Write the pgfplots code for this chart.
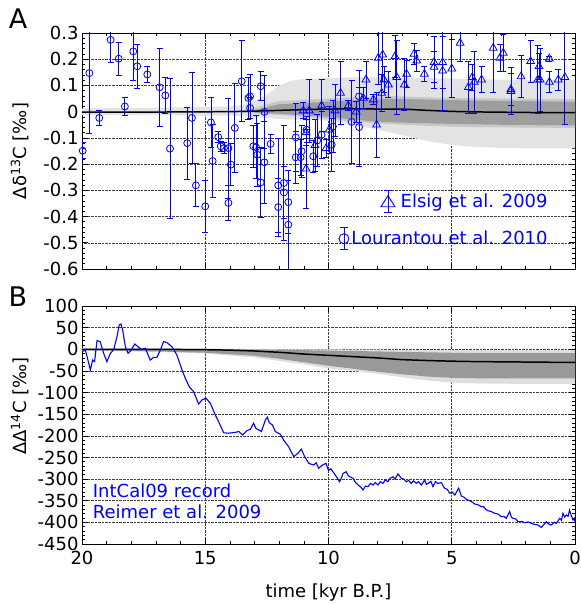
\documentclass[border=0pt]{standalone}
\usepackage{fontspec}
\setmainfont{DejaVu Sans}
\usepackage{pgfplots}
\pgfplotsset{compat=1.18}
\usepackage{pgfplotstable}

\pgfplotstableread{
x y e
19.97 -0.149 0.03
19.70 0.147 0.23
19.30 -0.024 0.03
18.84 0.274 0.088
18.51 0.202 0.062
18.26 0.020 0.033
17.92 0.230 0.112
17.76 0.173 0.083
17.35 0.142 0.03
16.85 0.093 0.15
16.62 0.062 0.067
16.43 -0.141 0.266
15.73 -0.120 0.137
15.54 -0.024 0.175
15.38 -0.281 0.082
15.00 -0.361 0.10
14.77 -0.041 0.097
14.70 -0.188 0.14
14.47 -0.097 0.02
14.37 -0.132 0.02
14.24 -0.139 0.02
14.06 -0.139 0.19
14.06 -0.348 0.068
13.96 -0.202 0.08
13.80 -0.062 0.17
13.52 0.116 0.155
13.25 0.052 0.08
13.18 0.058 0.083
13.18 0.014 0.04
13.05 -0.132 0.08
12.94 -0.136 0.12
12.89 -0.164 0.12
12.75 0.097 0.055
12.75 -0.270 0.135
12.60 -0.001 0.14
12.60 -0.193 0.155
12.35 -0.123 0.035
12.04 -0.281 0.18
12.04 -0.364 0.11
11.81 -0.272 0.22
11.81 -0.308 0.1
11.63 -0.345 0.12
11.63 -0.431 0.17
11.33 -0.098 0.13
11.33 -0.174 0.1
11.13 -0.174 0.07
11.09 -0.151 0.1
10.89 -0.069 0.05
10.62 -0.170 0.06
10.46 -0.110 0.1
10.28 -0.088 0.09
9.87 -0.126 0.1
9.82 -0.057 0.1
9.06 -0.039 0.16
8.76 0.058 0.1
8.76 -0.059 0.15
}\lourantou

\pgfplotstableread{
x y e
11.02 0.004 0.03
10.91 -0.079 0.05
10.91 -0.218 0.15
10.78 0.004 0.12
10.55 -0.128 0.1
10.28 0.023 0.1
10.10 -0.140 0.035
9.97 -0.069 0.09
9.74 0.004 0.1
9.51 0.071 0.12
9.20 0.023 0.02
8.88 0.000 0.04
8.59 0.052 0.04
8.48 0.122 0.07
8.18 0.046 0.02
8.05 -0.050 0.125
7.98 0.205 0.1
7.84 0.071 0.07
7.80 0.217 0.1
7.75 0.122 0.05
7.57 0.103 0.05
7.30 0.211 0.08
7.23 0.131 0.14
6.92 0.103 0.1
6.83 0.144 0.05
6.53 0.220 0.04
6.42 0.194 0.04
6.11 0.144 0.03
5.72 0.188 0.1
5.72 0.170 0.06
5.37 0.188 0.1
5.37 0.156 0.15
5.00 0.164 0.11
4.66 0.262 0.07
4.33 0.093 0.1
4.17 0.131 0.05
4.09 0.113 0.118
3.79 0.122 0.05
3.32 0.243 0.17
3.04 0.205 0.05
2.91 0.224 0.07
2.60 0.078 0.09
2.60 0.085 0.06
2.19 0.134 0.08
1.80 0.192 0.08
1.51 0.122 0.13
1.46 0.173 0.05
1.42 0.122 0.12
1.04 0.202 0.01
1.04 0.113 0.04
0.68 0.122 0.04
0.41 0.131 0.18
}\elsig

\pgfplotstableread{
x y
20.00 -5.5
19.86 -1.7
19.66 -48
19.57 -25
19.49 -28.6
19.39 20
19.26 17.6
19.12 -9.4
18.99 -28.6
18.85 -9.4
18.72 -1.7
18.58 29
18.49 56
18.42 58.4
18.35 44.5
18.24 6
18.13 -9.4
18.00 -1.7
17.86 12.2
17.73 6
17.59 0
17.43 2.2
17.23 -25
17.09 -18.6
16.96 -18.6
16.82 -1.7
16.69 17.6
16.55 15.3
16.35 6
16.15 -13.3
15.94 -48
15.81 -67
15.65 -86.4
15.47 -98
15.27 -126.5
15.13 -117
14.97 -113
14.79 -125
14.59 -152
14.46 -167
14.25 -193
14.05 -194
13.78 -192
13.64 -190
13.48 -198
13.31 -188
13.17 -185
13.04 -171
12.94 -183
12.72 -190
12.56 -163.5
12.48 -157
12.40 -170
12.27 -175
12.16 -190
11.95 -196.6
11.82 -209.7
11.62 -225
11.41 -248
11.24 -240.5
11.10 -231
10.97 -248
10.80 -263.6
10.60 -267.5
10.50 -262
10.40 -275
10.24 -267.5
10.10 -263.6
10.00 -280
9.90 -276
9.82 -283
9.75 -288
9.68 -294.5
9.55 -306
9.48 -298
9.41 -287
9.28 -283
9.20 -292
9.14 -294.5
9.01 -298
8.90 -308
8.80 -313.7
8.70 -318
8.60 -325
8.50 -316
8.40 -317.6
8.30 -310
8.19 -313.7
8.10 -308
7.99 -313.7
7.90 -306
7.79 -310
7.70 -302
7.59 -306
7.50 -298
7.38 -294.5
7.30 -300
7.18 -288
7.05 -298
6.95 -300
6.84 -306
6.75 -303
6.64 -310
6.55 -304
6.44 -310
6.35 -306
6.23 -313.7
6.10 -302
6.03 -312
5.96 -310
5.85 -305
5.76 -317.6
5.66 -306
5.56 -310
5.42 -308
5.35 -316
5.29 -321
5.18 -324
5.08 -333
4.98 -330
4.88 -337
4.72 -321
4.61 -339
4.50 -342
4.42 -346
4.34 -348.4
4.20 -352
4.07 -357.6
3.95 -359
3.80 -363.8
3.70 -364
3.62 -370
3.53 -373
3.40 -375
3.26 -379
3.12 -381
2.99 -387
2.88 -386
2.79 -390.8
2.65 -375
2.58 -388
2.51 -390.8
2.40 -392
2.31 -398.5
2.15 -398
2.04 -400.8
1.90 -399
1.77 -402.3
1.62 -405
1.50 -406.2
1.37 -411.6
1.25 -404
1.16 -398.5
1.06 -404
0.96 -406.2
0.85 -400
0.76 -402.3
0.62 -390.8
0.55 -395
0.49 -379
0.42 -388
0.35 -383
0.28 -386
0.22 -371.5
0.15 -384
0.08 -394.6
0.02 -390
0.00 -400
}\intcal

\newcommand{\myfont}{\fontsize{18bp}{21bp}\selectfont}

\pgfplotsset{
  panel/.style={
    scale only axis,
    width=493bp,
    x dir=reverse,
    xmin=0, xmax=20,
    xtick={0,5,10,15,20},
    minor x tick num=4,
    minor y tick num=4,
    tick align=inside,
    major tick length=6bp,
    minor tick length=3bp,
    grid=major,
    grid style={densely dotted, black!75, line width=0.5pt},
    axis line style={line width=0.9pt},
    tick style={line width=0.6pt, black},
    ticklabel style={font=\myfont},
    label style={font=\myfont},
    /pgf/number format/assume math mode=true,
    clip=true,
  },
  myerr/.style={
    error bars/.cd, y dir=both, y explicit,
    error bar style={color=blue, line width=0.8pt},
    error mark options={rotate=90, mark size=3bp, line width=0.8pt, color=blue},
  },
}

\begin{document}
\begin{tikzpicture}
\path[use as bounding box] (0,0) rectangle (581bp,604bp);

% ---------- Panel A: bands, mean line, frame ----------
\begin{axis}[panel,
  at={(82bp,335bp)}, anchor=south west,
  height=236bp,
  ymin=-0.6, ymax=0.3,
  ytick={-0.6,-0.5,-0.4,-0.3,-0.2,-0.1,0,0.1,0.2,0.3},
  yticklabel style={/pgf/number format/fixed,/pgf/number format/precision=1},
  xticklabels={},
  ylabel={Δδ\textsuperscript{13}C [‰]},
  ylabel style={at={(axis description cs:-0.126,0.5)}, anchor=center},
]
\addplot[fill=black!11, draw=none] coordinates {
(20,0.012)(17,0.015)(15,0.018)(14,0.02)(13.5,0.025)(13,0.04)(12.5,0.065)(12,0.1)(11.5,0.118)(11,0.125)(10,0.128)(9,0.131)(8,0.131)(7,0.13)(6,0.128)(5,0.126)(4,0.124)(3,0.122)(2,0.12)(1,0.12)(0,0.12)
(0,-0.14)(1,-0.14)(2,-0.14)(3,-0.138)(4,-0.135)(5,-0.127)(6,-0.112)(7,-0.09)(8,-0.068)(9,-0.05)(10,-0.035)(11,-0.03)(11.5,-0.03)(12,-0.028)(12.5,-0.024)(13,-0.02)(13.5,-0.018)(14,-0.015)(15,-0.015)(17,-0.013)(20,-0.012)
};
\addplot[fill=black!22, draw=none] coordinates {
(13.5,0.004)(13,0.015)(12,0.04)(11,0.045)(10,0.05)(9,0.055)(8,0.058)(7,0.058)(6,0.055)(5,0.052)(3,0.05)(0,0.048)
(0,-0.062)(3,-0.06)(5,-0.057)(6,-0.054)(7,-0.05)(8,-0.045)(9,-0.038)(10,-0.028)(11,-0.02)(12,-0.012)(13,-0.007)(13.5,-0.004)
};
\addplot[fill=black!38, draw=none] coordinates {
(13,0.006)(12,0.028)(11,0.033)(10,0.038)(9,0.043)(8,0.048)(7,0.048)(6,0.046)(5,0.044)(3,0.041)(0,0.038)
(0,-0.052)(3,-0.05)(5,-0.047)(6,-0.044)(7,-0.042)(8,-0.038)(9,-0.03)(10,-0.02)(11,-0.014)(12,-0.008)(13,-0.004)
};
\addplot[black, line width=1.5pt] coordinates {
(20,-0.002)(18,-0.002)(16,-0.001)(14,0)(13,0.002)(12,0.005)(11,0.008)(10,0.01)(9,0.011)(8,0.01)(7,0.01)(6,0.005)(5,0.001)(4,-0.001)(3,-0.002)(2,-0.003)(1,-0.004)(0,-0.004)
};
\end{axis}

% ---------- Panel A: data points on a second, hidden axis ----------
\begin{axis}[
  scale only axis, width=493bp, height=236bp,
  at={(82bp,335bp)}, anchor=south west,
  x dir=reverse, xmin=0, xmax=20,
  ymin=-0.6, ymax=0.3,
  hide axis, clip=true,
  legend cell align=right,
  legend style={draw=none, fill=none, font=\myfont, text=blue,
     at={(axis description cs:0.955,0.335)}, anchor=north east, row sep=16bp},
]
\addplot[color=blue, only marks, mark=triangle, mark size=4.5bp, mark options={line width=0.8pt},
  legend image code/.code={
    \draw[blue, line width=0.9pt, overlay] (44bp,-11bp) -- (44bp,11bp) (40bp,-11bp)--(48bp,-11bp) (40bp,11bp)--(48bp,11bp);
    \draw[blue, line width=0.9pt, overlay] (44bp,6bp) -- (37bp,-5bp) -- (51bp,-5bp) -- cycle;
  }, myerr]
  table[x=x, y=y, y error=e] {\elsig};
\addlegendentry{Elsig et al. 2009}
\addplot[color=blue, only marks, mark=o, mark size=3.5bp, mark options={line width=0.8pt},
  legend image code/.code={
    \draw[blue, line width=0.9pt] (0bp,-11bp) -- (0bp,11bp) (-4bp,-11bp)--(4bp,-11bp) (-4bp,11bp)--(4bp,11bp);
    \draw[blue, line width=0.9pt] (0bp,0bp) circle (5bp);
  }, myerr]
  table[x=x, y=y, y error=e] {\lourantou};
\addlegendentry{Lourantou et al. 2010}
\end{axis}

% ---------- Panel B ----------
\begin{axis}[panel,
  at={(82bp,60bp)}, anchor=south west,
  height=238bp,
  ymin=-450, ymax=100,
  ytick={-450,-400,...,100},
  xticklabel style={yshift=-4bp},
  xlabel={time [kyr B.P.]},
  xlabel style={at={(axis description cs:0.5,-0.206)}, anchor=center},
  ylabel={ΔΔ\textsuperscript{14}C [‰]},
  ylabel style={at={(axis description cs:-0.126,0.58)}, anchor=center},
]
\addplot[fill=black!13, draw=none] coordinates {
(20,2)(17,2)(15,2)(13,1)(12,0)(11,0)(10,0)(9,-1)(8,-1)(7,-2)(6,-2)(5,-2)(4,-2)(2,-2)(0,-2)
(0,-80)(2,-80)(4,-79)(5,-77)(6,-72)(7,-65)(8,-57)(9,-50)(10,-44)(11,-35)(12,-27)(13,-19)(15,-10)(17,-6)(20,-3)
};
\addplot[fill=black!40, draw=none] coordinates {
(20,0)(17,0)(15,0)(13,0)(12,-1)(11,-2)(10,-3)(9,-4)(8,-5)(7,-6)(6,-7)(5,-8)(4,-9)(2,-9)(0,-9)
(0,-67)(2,-67)(4,-67)(5,-66)(6,-63)(7,-58)(8,-52)(9,-45)(10,-38)(11,-30)(12,-22)(13,-15)(15,-8)(17,-5)(20,-2)
};
\addplot[black, line width=1.5pt] coordinates {
(20,0)(18,0)(16,-0.5)(15,-1)(14,-2)(13,-4)(12,-7)(11,-11)(10,-14)(9,-17)(8,-20)(7,-24)(6,-26)(5,-27.5)(4,-28.5)(3,-29)(2,-29.5)(1,-30)(0,-30)
};
\addplot[blue, line width=1.1pt] table[x=x, y=y] {\intcal};
\node[blue, font=\myfont, anchor=west, align=left] at (axis description cs:0.015,0.18)
  {IntCal09 record\\Reimer et al. 2009};
\end{axis}

\node[font=\fontsize{27bp}{30bp}\selectfont, anchor=center] at (18bp,585bp) {A};
\node[font=\fontsize{27bp}{30bp}\selectfont, anchor=center] at (18bp,307bp) {B};
\end{tikzpicture}
\end{document}
